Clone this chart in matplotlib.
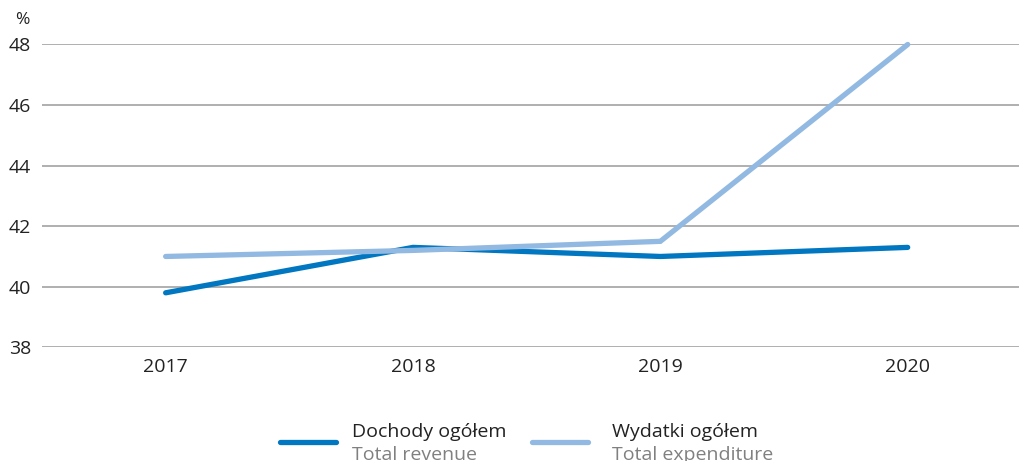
import matplotlib.pyplot as plt
from matplotlib.lines import Line2D

years = [2017, 2018, 2019, 2020]
revenue = [39.8, 41.3, 41.0, 41.3]
expenditure = [41.0, 41.2, 41.5, 48.0]
yticks = [38, 40, 42, 44, 46, 48]

dark = '#0077c0'
light = '#92b9e1'

plt.rcParams['font.family'] = ['Open Sans', 'DejaVu Sans']

fig = plt.figure(figsize=(10.19, 4.61), dpi=100)
ax = fig.add_axes([0.0412, 0.2466, 0.9588, 0.6569])

ax.plot(years, revenue, color=dark, lw=3.8, solid_capstyle='round', solid_joinstyle='miter', zorder=3, clip_on=False)
ax.plot(years, expenditure, color=light, lw=3.8, solid_capstyle='round', solid_joinstyle='miter', zorder=4, clip_on=False)

ax.set_xlim(2016.5, 2020.45)
ax.set_ylim(38, 48)
ax.set_yticks(yticks)
ax.set_xticks(years)
ax.yaxis.grid(True, color='#9a9a9a', lw=1.1)
ax.set_axisbelow(True)
for s in ax.spines.values():
    s.set_visible(False)
ax.tick_params(axis='both', length=0, labelsize=14, colors='#222222')
ax.tick_params(axis='y', pad=8)
ax.tick_params(axis='x', pad=8)

fig.text(22 / 1019, 1 - 20 / 461, '%', fontsize=12.5, color='#222222', ha='center', va='center')

# legend
entries = [('Dochody ogółem', 'Total revenue', dark, 280, 352),
           ('Wydatki ogółem', 'Total expenditure', light, 532, 612)]
for pl, en, c, x0, xt in entries:
    fig.add_artist(Line2D([x0 / 1019, (x0 + 56) / 1019], [1 - 442 / 461] * 2,
                          color=c, lw=3.8, solid_capstyle='round'))
    fig.text(xt / 1019, 1 - 432 / 461, pl, fontsize=14, color='#222222', va='center')
    fig.text(xt / 1019, 1 - 455 / 461, en, fontsize=14, color='#808080', va='center')

fig.savefig('out.png', dpi=100)
